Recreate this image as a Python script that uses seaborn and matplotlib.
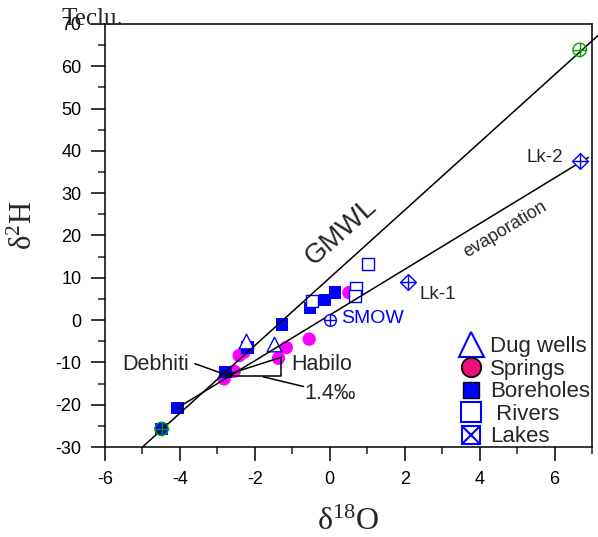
import numpy as np
import pandas as pd
import matplotlib
matplotlib.use('Agg')
import matplotlib.pyplot as plt
import seaborn as sns
from matplotlib.lines import Line2D
from matplotlib.ticker import MultipleLocator

# ---------------- data ----------------
dug_x = [-2.24, -1.49]
dug_y = [-4.9, -5.7]
spring_x = [0.51, -0.55, -1.16, -1.37, -2.42, -2.29, -2.55, -2.82]
spring_y = [6.5, -4.5, -6.5, -9.0, -8.4, -7.6, -12.1, -13.9]
bore_x = [0.14, -0.13, -0.53, -1.28, -2.20, -2.78, -4.07, -4.49]
bore_y = [6.5, 4.7, 2.9, -1.0, -6.5, -12.3, -20.8, -25.7]
river_x = [1.03, 0.69, 0.67, -0.48]
river_y = [13.3, 7.6, 5.6, 4.5]
lake_names = ['Lk-1', 'Lk-2']
lake_x = [2.09, 6.67]
lake_y = [9.0, 37.5]
rain_x = [6.67, -4.49]
rain_y = [63.9, -25.7]
smow_x = [0.0]
smow_y = [0.0]

gmwl_slope, gmwl_icpt = 8.0, 10.0
gmwl_x = np.array([-5.0, 7.4])
evap_slope, evap_icpt = 5.4, 1.2
evap_x = np.array([-4.08, 6.9])

# Debhiti -> Habilo shift triangle
deb_pt = (-2.78, -13.0)
hab_pt = (-1.30, -8.8)
base_y = -13.2

x_ticks = [-6, -4, -2, 0, 2, 4, 6]
y_ticks = [-30, -20, -10, 0, 10, 20, 30, 40, 50, 60, 70]

# ---------------- style ----------------
sns.set_theme(style='ticks')
plt.rcParams['font.family'] = ['Liberation Sans', 'DejaVu Sans']
plt.rcParams['axes.unicode_minus'] = False
plt.rcParams['mathtext.fontset'] = 'custom'
plt.rcParams['mathtext.rm'] = 'Liberation Serif'
plt.rcParams['mathtext.it'] = 'Liberation Serif:italic'

BLUE = '#0000ff'
PINK = '#ff00ff'
GREEN = '#00a000'

fig = plt.figure(figsize=(5.98, 5.37), dpi=100)
ax = fig.add_axes([105/598, 1-447/537, 487/598, 423/537])
ax.set_facecolor('white')

# lines
ax.plot(gmwl_x, gmwl_slope*gmwl_x + gmwl_icpt, color='black', lw=1.1, clip_on=False, zorder=3)
ax.plot(evap_x, evap_slope*evap_x + evap_icpt, color='black', lw=1.1, zorder=3)
ax.plot([deb_pt[0], hab_pt[0]], [deb_pt[1], hab_pt[1]], color='black', lw=1.1, zorder=3)
ax.plot([deb_pt[0], hab_pt[0], hab_pt[0]], [base_y, base_y, hab_pt[1]], color='black', lw=1.1, zorder=3)
ax.plot([-3.6, deb_pt[0]], [-10.3, -12.9], color='black', lw=1.1, zorder=3)
ax.plot([-1.78, -0.70], [-13.4, -15.7], color='black', lw=1.1, zorder=3)

# points
sns.scatterplot(x=spring_x, y=spring_y, ax=ax, marker='o', s=9.6**2, color=PINK,
                edgecolor='none', linewidth=0, legend=False, zorder=2)
sns.scatterplot(x=bore_x, y=bore_y, ax=ax, marker='s', s=9**2, color=BLUE,
                edgecolor='none', linewidth=0, legend=False, zorder=2)
sns.scatterplot(x=river_x, y=river_y, ax=ax, marker='s', s=8.5**2, facecolor='white',
                edgecolor=BLUE, linewidth=1.0, legend=False, zorder=2)
sns.scatterplot(x=dug_x, y=dug_y, ax=ax, marker='^', s=10.6**2, facecolor='white',
                edgecolor=BLUE, linewidth=1.0, legend=False, zorder=2)
# lakes: diamond with cross
sns.scatterplot(x=lake_x, y=lake_y, ax=ax, marker='D', s=8**2, facecolor='white',
                edgecolor=BLUE, linewidth=1.0, legend=False, zorder=4)
sns.scatterplot(x=lake_x, y=lake_y, ax=ax, marker='+', s=11**2, color=BLUE,
                linewidth=1.0, legend=False, zorder=4)
# SMOW
sns.scatterplot(x=smow_x, y=smow_y, ax=ax, marker='o', s=8.4**2, facecolor='white',
                edgecolor=BLUE, linewidth=1.0, legend=False, zorder=4)
sns.scatterplot(x=smow_x, y=smow_y, ax=ax, marker='+', s=8.4**2, color=BLUE,
                linewidth=1.0, legend=False, zorder=4)
# green circled plus
sns.scatterplot(x=rain_x, y=rain_y, ax=ax, marker='o', s=9.6**2, facecolor='none',
                edgecolor=GREEN, linewidth=1.0, legend=False, zorder=4)
sns.scatterplot(x=rain_x, y=rain_y, ax=ax, marker='+', s=9.6**2, color=GREEN,
                linewidth=1.0, legend=False, zorder=4)

# texts
ax.text(0.30, 20.9, 'GMWL', fontsize=20, rotation=42, ha='center', va='center')
ax.text(4.69, 21.5, 'evaporation', fontsize=13, rotation=31, ha='center', va='center')
ax.text(-3.75, -11.8, 'Debhiti', fontsize=15.5, ha='right', va='baseline')
ax.text(-1.04, -11.8, 'Habilo', fontsize=15.5, ha='left', va='baseline')
ax.text(-0.69, -18.6, '1.4‰', fontsize=15.5, ha='left', va='baseline')
ax.text(0.29, -0.8, 'SMOW', fontsize=14, ha='left', va='baseline', color=BLUE)
ax.text(lake_x[0] + 0.30, lake_y[0] - 3.9, lake_names[0], fontsize=13.5, ha='left', va='baseline')
ax.text(lake_x[1] - 0.43, lake_y[1] - 0.1, lake_names[1], fontsize=13.5, ha='right', va='baseline')

fig.text(61.7/598, 1-25/537, 'Teclu.', fontsize=18, family='Liberation Serif', va='baseline')

# axes
ax.set_xlim(-6, 7)
ax.set_ylim(-30, 70)
ax.set_xticks(x_ticks)
ax.set_yticks(y_ticks)
ax.xaxis.set_minor_locator(MultipleLocator(1))
ax.yaxis.set_minor_locator(MultipleLocator(5))
ax.tick_params(which='major', direction='out', length=10, width=1.1, labelsize=13, pad=7,
               colors='black')
ax.tick_params(which='minor', direction='out', length=5, width=1.1)
for sp in ax.spines.values():
    sp.set_visible(True)
    sp.set_color('black')
    sp.set_linewidth(1.1)
ax.set_xlabel(r'$\mathrm{\delta}^{18}\mathrm{O}$', fontsize=23)
ax.set_ylabel(r'$\mathrm{\delta}^{2}\mathrm{H}$', fontsize=22)
ax.xaxis.set_label_coords(0.5, -0.143)
ax.yaxis.set_label_coords(-0.136, 0.525)

# legend
handles = [
    Line2D([], [], ls='none', marker='^', ms=18, mfc='white', mec=BLUE, mew=1.5),
    Line2D([], [], ls='none', marker='o', ms=14, mfc='#f0107a', mec='black', mew=1.3),
    Line2D([], [], ls='none', marker='s', ms=12, mfc=BLUE, mec='black', mew=1.0),
    Line2D([], [], ls='none', marker='s', ms=14, mfc='white', mec=BLUE, mew=1.5),
    (Line2D([], [], ls='none', marker='s', ms=13, mfc='white', mec=BLUE, mew=1.5),
     Line2D([], [], ls='none', marker='x', ms=12, mec=BLUE, mew=1.5)),
]
labels = ['Dug wells', 'Springs', 'Boreholes', ' Rivers', 'Lakes']
leg = ax.legend(handles, labels, loc='upper left', bbox_to_anchor=(0.729, 0.262),
                frameon=False, fontsize=16, labelspacing=0.07, handlelength=1.0,
                handletextpad=0.36, borderpad=0, borderaxespad=0)

fig.savefig('out.png', dpi=100)
